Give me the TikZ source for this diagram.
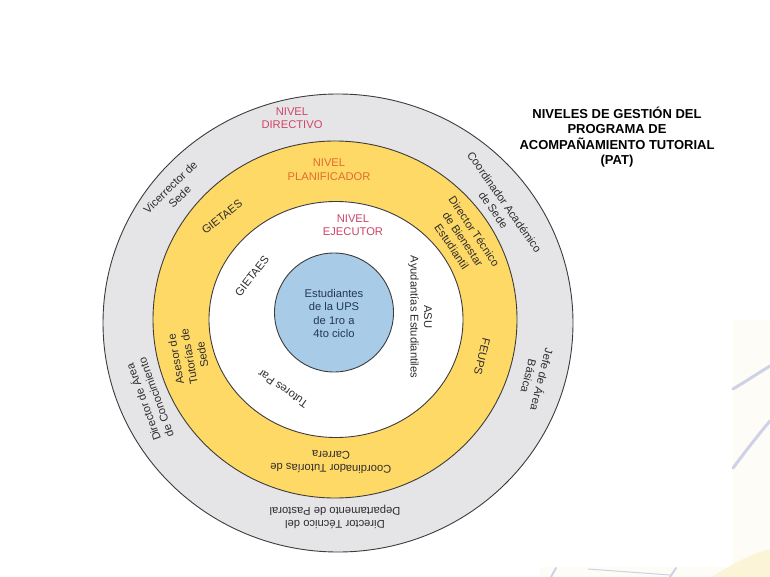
\documentclass[tikz,border=0pt]{standalone}
\usepackage{fontspec}
\setmainfont{Liberation Sans}
\definecolor{ringgray}{RGB}{229,229,231}
\definecolor{ringyellow}{RGB}{255,217,102}
\definecolor{coreblue}{RGB}{168,204,232}
\definecolor{edgecol}{RGB}{60,60,60}
\definecolor{txtcol}{RGB}{45,45,45}
\definecolor{coretxt}{RGB}{35,55,85}
\definecolor{lvlred}{RGB}{205,68,102}
\definecolor{lvlorange}{RGB}{224,108,48}
\definecolor{decocol}{RGB}{206,209,232}
\definecolor{decoyel}{RGB}{251,244,214}
\definecolor{decobg}{RGB}{253,252,247}
\begin{document}
\begin{tikzpicture}[x=1pt,y=-1pt,
  ring/.style={draw=edgecol, line width=0.9pt},
  lbl/.style={font=\fontsize{11.2}{13.5}\selectfont, align=center, inner sep=0pt, text=txtcol},
  ttl/.style={font=\fontsize{13}{15.3}\selectfont\bfseries, align=center, inner sep=0pt, text=black},
  decoline/.style={draw=decocol, line width=3pt, line cap=round}]
\useasboundingbox (0,0) rectangle (770,577);
\fill[white] (0,0) rectangle (770,577);
% faint background fragments
\fill[decobg] (733,320) rectangle (770,577);
\fill[decobg] (540,567) rectangle (770,577);
\fill[decoyel] (712,577) .. controls (735,562) and (755,553) .. (770,549) -- (770,577) -- cycle;
\draw[decoline] (733,389) .. controls (748,380) and (760,372) .. (770,366);
\draw[decoline] (733,468) .. controls (745,452) and (758,435) .. (770,421);
\draw[decoline, line width=2pt] (551,577) -- (556,568);
\draw[draw=decocol, line width=1pt] (588,569) -- (670,575);
\draw[decoline, line width=2pt] (670,577) -- (676,568);
% rings
\filldraw[ring, fill=ringgray] (338,323) ellipse [x radius=235, y radius=229];
\filldraw[ring, fill=ringyellow] (335,319.5) ellipse [x radius=182, y radius=178.5];
\filldraw[ring, fill=white] (336,319.5) ellipse [x radius=127, y radius=118];
\filldraw[ring, fill=coreblue] (334,312.5) ellipse [x radius=59.5, y radius=59.5];
% core text
\node[lbl, text=coretxt] (est) at (334,313.5) {Estudiantes\\de la UPS\\de 1ro a\\4to ciclo};
% level titles
\node[lbl, text=lvlred] (ndir) at (292,118) {NIVEL\\DIRECTIVO};
\node[lbl, text=lvlorange] (nplan) at (329,169.5) {NIVEL\\PLANIFICADOR};
\node[lbl, text=lvlred] (nejec) at (353,225) {NIVEL\\EJECUTOR};
% gray ring labels
\node[lbl, rotate=44] (vic) at (175,192) {Vicerrector de\\Sede};
\node[lbl, rotate=-55] (cas) at (499,206) {Coordinador Académico\\de Sede};
\node[lbl, rotate=-104] (jefe) at (536,378) {Jefe de Área\\Básica};
\node[lbl, rotate=110] (dac) at (149,400) {Director de Área\\de Conocimiento};
\node[lbl, rotate=180] (dtp) at (335,517) {Director Técnico del\\Departamento de Pastoral};
% yellow ring labels
\node[lbl, rotate=38] (gie1) at (222,217) {GIETAES};
\node[lbl, rotate=-56] (dtb) at (463,239) {Director Técnico\\de Bienestar\\Estudiantil};
\node[lbl, rotate=-104] (feups) at (482,357) {FEUPS};
\node[lbl, rotate=100] (ase) at (189,357) {Asesor de\\Tutorías de\\Sede};
\node[lbl, rotate=179] (ctc) at (331,462) {Coordinador Tutorías de\\Carrera};
% white ring labels
\node[lbl, rotate=52] (gie2) at (252,276) {GIETAES};
\node[lbl, rotate=-90] (asu) at (420,317) {ASU\\Ayudantías Estudiantiles};
\node[lbl, rotate=145] (tut) at (283,389) {Tutores Par};
% title
\node[ttl] (title) at (617,137) {NIVELES DE GESTIÓN DEL\\PROGRAMA DE\\ACOMPAÑAMIENTO TUTORIAL\\(PAT)};
\end{tikzpicture}
\end{document}
